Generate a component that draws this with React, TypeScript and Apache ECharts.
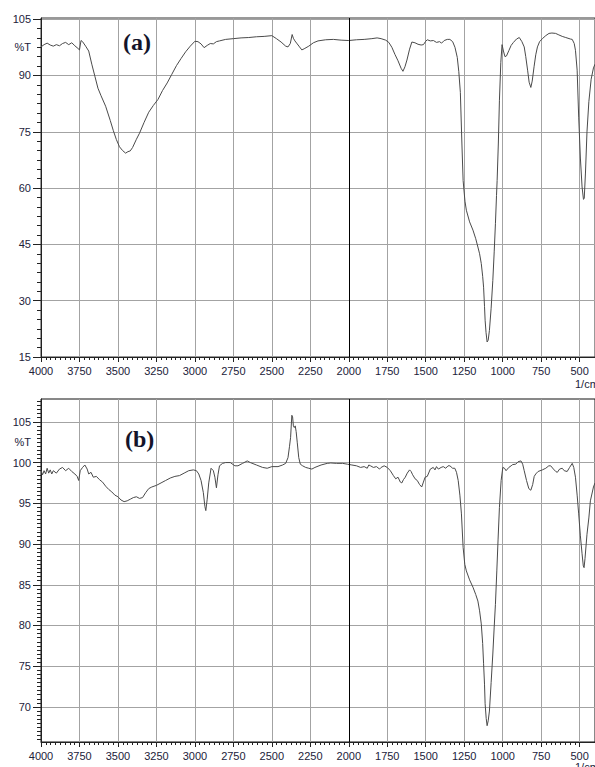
import React, { useEffect, useRef } from "react";
import * as echarts from "echarts";

// ---- Panel (a) spectrum ----
const waveA = [4000, 3980, 3960, 3940, 3920, 3900, 3880, 3860, 3840, 3820, 3800, 3780, 3760, 3750, 3740, 3730, 3710, 3690, 3670, 3650, 3630, 3610, 3580, 3550, 3530, 3510, 3490, 3470, 3450, 3435, 3420, 3405, 3380, 3360, 3330, 3300, 3270, 3240, 3210, 3180, 3150, 3120, 3090, 3060, 3030, 3000, 2980, 2960, 2940, 2920, 2900, 2880, 2860, 2840, 2800, 2750, 2700, 2650, 2600, 2550, 2500, 2470, 2440, 2410, 2395, 2380, 2368, 2360, 2350, 2335, 2320, 2305, 2290, 2260, 2230, 2200, 2150, 2100, 2050, 2000, 1950, 1900, 1850, 1816, 1790, 1760, 1740, 1720, 1700, 1680, 1660, 1648, 1635, 1622, 1605, 1590, 1570, 1550, 1530, 1515, 1500, 1490, 1470, 1450, 1430, 1410, 1397, 1380, 1360, 1343, 1325, 1310, 1295, 1285, 1275, 1265, 1257, 1245, 1236, 1215, 1193, 1175, 1161, 1150, 1139, 1130, 1124, 1118, 1114, 1108, 1101, 1094, 1086, 1075, 1064, 1055, 1047, 1040, 1036, 1028, 1021, 1012, 1004, 995, 985, 975, 960, 945, 930, 910, 892, 875, 860, 850, 838, 828, 817, 808, 796, 785, 774, 760, 742, 720, 699, 680, 656, 635, 613, 590, 560, 548, 535, 527, 516, 506, 495, 484, 475, 470, 462, 452, 440, 425, 410, 400];
const transA = [97.6, 98.2, 98.6, 98.1, 97.8, 98.2, 97.9, 98.5, 98.8, 98.2, 98.7, 97.9, 97.2, 96.8, 99.3, 99.0, 97.8, 96.5, 93.0, 89.8, 86.6, 84.6, 81.8, 78.0, 75.3, 72.9, 71.0, 70.0, 69.3, 69.7, 69.9, 70.8, 73.0, 74.6, 77.5, 80.2, 82.0, 83.6, 86.0, 88.0, 90.3, 92.6, 94.5, 96.3, 97.8, 99.1, 99.0, 98.4, 97.4, 98.0, 98.5, 98.4, 99.0, 99.2, 99.6, 99.8, 100.0, 100.1, 100.3, 100.4, 100.6, 99.8, 98.9, 97.8, 97.6, 98.5, 100.9, 99.9, 99.2, 98.4, 97.6, 96.8, 97.1, 97.8, 98.7, 99.2, 99.5, 99.6, 99.4, 99.3, 99.5, 99.6, 99.8, 100.0, 99.8, 99.4, 98.8, 97.5, 95.6, 93.9, 91.9, 91.1, 92.3, 94.1, 97.0, 98.9, 98.7, 98.3, 98.1, 98.2, 99.1, 99.5, 99.2, 99.3, 98.8, 99.0, 98.6, 99.3, 99.6, 99.6, 99.0, 97.5, 94.8, 91.0, 85.5, 72.0, 62.0, 56.5, 54.1, 51.0, 48.8, 46.5, 44.3, 42.5, 39.9, 36.5, 33.6, 28.5, 24.8, 21.5, 19.0, 19.5, 22.1, 28.0, 35.4, 43.0, 50.5, 58.0, 62.0, 72.0, 83.4, 93.5, 98.2, 96.5, 95.0, 95.2, 96.6, 98.0, 98.8, 99.7, 100.1, 99.0, 97.6, 95.0, 91.4, 88.2, 86.8, 88.5, 92.3, 95.5, 97.6, 99.0, 99.8, 100.6, 101.2, 101.3, 101.2, 100.8, 100.4, 100.1, 99.7, 99.6, 98.5, 96.7, 91.4, 78.9, 68.0, 60.3, 57.0, 57.2, 64.0, 75.0, 83.0, 89.0, 92.0, 93.0];

// ---- Panel (b) spectrum ----
const waveB = [4000, 3990, 3980, 3970, 3960, 3950, 3940, 3930, 3920, 3900, 3880, 3860, 3840, 3820, 3800, 3780, 3765, 3755, 3745, 3730, 3715, 3700, 3690, 3675, 3660, 3640, 3620, 3600, 3580, 3560, 3540, 3520, 3500, 3480, 3460, 3440, 3420, 3400, 3380, 3360, 3340, 3320, 3300, 3280, 3250, 3220, 3190, 3160, 3130, 3100, 3070, 3040, 3010, 2990, 2975, 2960, 2945, 2935, 2929, 2920, 2910, 2895, 2880, 2870, 2860, 2850, 2840, 2820, 2800, 2770, 2740, 2720, 2690, 2660, 2640, 2600, 2560, 2530, 2500, 2460, 2430, 2410, 2395, 2385, 2378, 2370, 2365, 2360, 2354, 2348, 2342, 2335, 2325, 2315, 2300, 2280, 2260, 2240, 2220, 2180, 2140, 2117, 2080, 2040, 2009, 1980, 1950, 1923, 1900, 1880, 1870, 1859, 1840, 1820, 1800, 1790, 1770, 1750, 1730, 1710, 1695, 1680, 1665, 1655, 1645, 1633, 1620, 1605, 1595, 1585, 1569, 1555, 1540, 1526, 1515, 1504, 1490, 1470, 1451, 1440, 1430, 1418, 1400, 1386, 1370, 1355, 1343, 1325, 1311, 1300, 1289, 1278, 1268, 1257, 1246, 1236, 1215, 1193, 1175, 1161, 1150, 1139, 1130, 1124, 1118, 1114, 1107, 1101, 1094, 1086, 1075, 1064, 1055, 1047, 1038, 1030, 1021, 1010, 999, 988, 978, 960, 945, 935, 915, 900, 881, 870, 860, 845, 830, 817, 805, 795, 785, 770, 742, 720, 700, 688, 670, 655, 645, 630, 613, 600, 581, 565, 548, 538, 527, 516, 506, 495, 484, 476, 471, 465, 452, 440, 430, 410, 400];
const transB = [99.0, 98.5, 99.0, 98.6, 99.3, 98.7, 99.1, 98.6, 99.0, 98.7, 99.2, 99.4, 99.0, 99.3, 98.9, 98.6, 98.3, 97.8, 99.0, 99.4, 99.7, 99.2, 98.6, 98.8, 98.2, 98.3, 97.9, 97.6, 97.1, 96.7, 96.4, 96.0, 95.8, 95.4, 95.2, 95.3, 95.5, 95.7, 95.8, 95.6, 95.7, 96.3, 96.8, 97.0, 97.2, 97.5, 97.8, 98.1, 98.3, 98.4, 98.7, 99.0, 99.1, 99.0, 98.6, 97.8, 96.3, 94.6, 94.1, 95.5, 97.5, 99.3, 99.0, 98.2, 96.9, 98.5, 99.6, 99.9, 100.0, 100.0, 99.6, 99.6, 99.9, 100.2, 100.0, 99.7, 99.4, 99.3, 99.5, 99.5, 99.7, 99.9, 100.6, 102.0, 103.1, 105.8, 105.6, 104.5, 104.3, 104.5, 103.8, 102.5, 100.6, 99.8, 99.6, 99.4, 99.3, 99.2, 99.4, 99.7, 99.9, 99.95, 99.9, 99.9, 99.8, 99.7, 99.6, 99.4, 99.5, 99.3, 99.7, 99.6, 99.4, 99.5, 99.2, 99.4, 99.6, 99.4, 99.0, 98.4, 98.0, 98.2, 97.6, 97.5, 97.9, 98.2, 98.7, 99.1, 98.9, 98.5, 98.0, 97.8, 97.3, 97.0, 97.6, 98.2, 98.3, 99.2, 99.4, 99.1, 99.5, 99.2, 99.4, 99.5, 99.3, 99.6, 99.6, 99.3, 99.3, 98.8, 97.8, 96.0, 93.7, 89.6, 87.5, 86.7, 85.6, 84.7, 83.8, 83.0, 81.8, 80.2, 77.8, 75.3, 72.8, 70.4, 68.6, 67.7, 68.3, 69.5, 73.0, 76.5, 79.8, 82.6, 86.7, 90.5, 94.5, 97.8, 99.4, 99.3, 99.0, 99.4, 99.6, 99.75, 99.8, 100.1, 100.2, 99.8, 99.0, 97.8, 96.8, 96.6, 97.3, 98.3, 98.6, 98.9, 99.1, 99.3, 99.6, 99.6, 99.2, 98.9, 98.8, 99.2, 99.3, 99.0, 98.9, 99.4, 99.9, 99.4, 98.2, 96.0, 93.7, 91.0, 88.8, 87.3, 87.1, 88.2, 91.2, 93.2, 95.3, 97.0, 97.5];

// ---- Axis ticks & labels ----
const xTickValues = [4000, 3750, 3500, 3250, 3000, 2750, 2500, 2250, 2000, 1750, 1500, 1250, 1000, 750, 500];
const yTicksA = [15, 30, 45, 60, 75, 90, 105];
const yLabelsA = [15, 30, 45, 60, 75, 90, 97.5, 105];
const yTicksB = [70, 75, 80, 85, 90, 95, 100, 105];
const yLabelsB = [70, 75, 80, 85, 90, 95, 100, 102.5, 105];
const unitLabel = "%T";
const xUnit = "1/cm";
const panelNames = ["(a)", "(b)"];

const stepValues = (from: number, to: number, step: number) => {
  const out: number[] = [];
  for (let v = from; v <= to + 1e-9; v += step) out.push(Math.round(v * 1000) / 1000);
  return out;
};
const xMinor = stepValues(500, 4000, 31.25);
const yMinorA = stepValues(15, 105, 2.5);
const yMinorB = stepValues(66, 107.5, 0.5);

const LABEL_COLOR = "#22223a";
const AXIS_COLOR = "#222";
const GRID_COLOR = "#a3a3a3";
const FONT = "'Liberation Sans', Arial, sans-serif";

export default function App() {
  const ref = useRef<HTMLDivElement>(null);
  useEffect(() => {
    if (!ref.current) return;
    const chart = echarts.init(ref.current, undefined, { renderer: "svg" });
    const fmt = (v: number) => (v === 97.5 || v === 102.5 ? unitLabel : String(v));
    const xfmt = (v: number) => String(v);

    const xMain = (g: number) => ({
      gridIndex: g,
      type: "value",
      min: 400,
      max: 4000,
      inverse: true,
      position: "bottom",
      axisLine: { show: true, onZero: false, lineStyle: { color: AXIS_COLOR, width: 1 } },
      axisTick: { show: true, customValues: xTickValues, length: 5, lineStyle: { color: AXIS_COLOR } },
      axisLabel: { customValues: xTickValues, formatter: xfmt, margin: 8, fontSize: 11, color: LABEL_COLOR, fontFamily: FONT },
      splitLine: { show: true, lineStyle: { color: GRID_COLOR, width: 1 } },
    });
    const xMin = (g: number) => ({
      gridIndex: g,
      type: "value",
      min: 400,
      max: 4000,
      inverse: true,
      position: "bottom",
      axisLine: { show: false, onZero: false },
      axisTick: { show: true, customValues: xMinor, length: 3, lineStyle: { color: AXIS_COLOR } },
      axisLabel: { show: false },
      splitLine: { show: false },
    });
    const yMain = (g: number, min: number, max: number, ticks: number[], labels: number[]) => ({
      gridIndex: g,
      type: "value",
      min,
      max,
      position: "left",
      axisLine: { show: true, onZero: false, lineStyle: { color: AXIS_COLOR, width: 1 } },
      axisTick: { show: true, customValues: ticks, length: 8, lineStyle: { color: AXIS_COLOR } },
      axisLabel: { customValues: labels, formatter: fmt, margin: 10, fontSize: 11, color: LABEL_COLOR, fontFamily: FONT },
      splitLine: { show: true, lineStyle: { color: GRID_COLOR, width: 1 } },
    });
    const yMin = (g: number, min: number, max: number, minor: number[]) => ({
      gridIndex: g,
      type: "value",
      min,
      max,
      position: "left",
      axisLine: { show: false, onZero: false },
      axisTick: { show: true, customValues: minor, length: 4, lineStyle: { color: AXIS_COLOR } },
      axisLabel: { show: false },
      splitLine: { show: false },
    });

    const lineSeries = (idx: number, xs: number[], ys: number[]) => ({
      type: "line",
      xAxisIndex: idx * 2,
      yAxisIndex: idx * 2,
      data: xs.map((x, i) => [x, ys[i]]),
      showSymbol: false,
      symbol: "none",
      lineStyle: { color: "#4a4a4a", width: 1 },
      silent: true,
      markLine: {
        silent: true,
        symbol: "none",
        label: { show: false },
        lineStyle: { color: "#000", width: 1, type: "solid" },
        data: [{ xAxis: 2000 }],
      },
    });

    chart.setOption({
      animation: false,
      backgroundColor: "#fff",
      grid: [
        { left: 41, top: 18, width: 557, height: 339, show: true, borderColor: "#333", borderWidth: 1, backgroundColor: "transparent" },
        { left: 41, top: 399, width: 557, height: 343, show: true, borderColor: "#111", borderWidth: 1, backgroundColor: "transparent" },
      ],
      xAxis: [xMain(0), xMin(0), xMain(1), xMin(1)],
      yAxis: [
        yMain(0, 15, 105.3, yTicksA, yLabelsA),
        yMin(0, 15, 105.3, yMinorA),
        yMain(1, 65.7, 107.8, yTicksB, yLabelsB),
        yMin(1, 65.7, 107.8, yMinorB),
      ],
      series: [lineSeries(0, waveA, transA), lineSeries(1, waveB, transB)],
      graphic: [
        { type: "text", left: 123, top: 30, style: { text: panelNames[0], font: "bold 24px 'Liberation Serif', 'Times New Roman', serif", fill: "#14142a" } },
        { type: "text", left: 125, top: 427, style: { text: panelNames[1], font: "bold 24px 'Liberation Serif', 'Times New Roman', serif", fill: "#14142a" } },
        { type: "text", left: 575, top: 378, style: { text: xUnit, font: "11px 'Liberation Sans', Arial, sans-serif", fill: LABEL_COLOR } },
        { type: "text", left: 575, top: 761, style: { text: xUnit, font: "11px 'Liberation Sans', Arial, sans-serif", fill: LABEL_COLOR } },
      ],
    });
    return () => chart.dispose();
  }, []);
  return <div ref={ref} style={{ position: "absolute", left: 0, top: 0, width: 595, height: 767 }} />;
}
